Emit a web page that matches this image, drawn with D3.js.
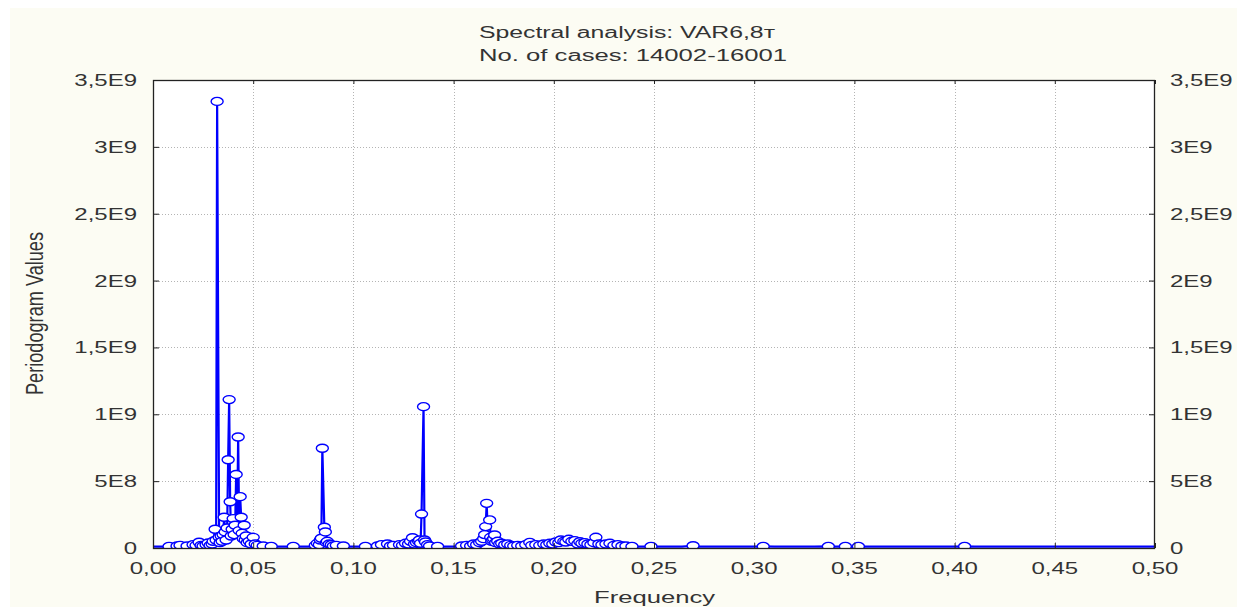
<!DOCTYPE html>
<html>
<head>
<meta charset="utf-8">
<script src="https://cdn.jsdelivr.net/npm/d3@7"></script>
<style>
  html, body { margin: 0; padding: 0; background: #ffffff; }
  svg { display: block; }
  text { font-family: "Liberation Sans", Arial, sans-serif; fill: #333; }
</style>
</head>
<body>
<svg id="chart" width="1237" height="607"></svg>
<script>
// ---- data (periodogram, frequency = k / 2000) ----
const titleLines = ["Spectral analysis: VAR6,8т", "No. of cases: 14002-16001"];
const xLabel = "Frequency";
const yLabel = "Periodogram Values";
const xTickValues = [0, 0.05, 0.10, 0.15, 0.20, 0.25, 0.30, 0.35, 0.40, 0.45, 0.50];
const xTickLabels = ["0,00","0,05","0,10","0,15","0,20","0,25","0,30","0,35","0,40","0,45","0,50"];
const yTickValues = [0, 5e8, 1e9, 1.5e9, 2e9, 2.5e9, 3e9, 3.5e9];
const yTickLabels = ["0","5E8","1E9","1,5E9","2E9","2,5E9","3E9","3,5E9"];

const freqIndex = [
  0,4,8,12,16,20,24,27,30,34,37,40,43,46,48,50,53,55,57,59,60,62,63,64,65,66,67,68,69,70,
  71,72,73,74,75,76,77,78,79,80,81,82,83,84,85,86,87,88,89,90,91,92,93,94,96,98,100,102,104,106,
  110,113,118,122,128,134,140,146,152,158,162,164,166,167,168,169,170,171,172,173,174,176,178,180,183,186,190,194,200,206,
  212,218,224,228,231,234,237,240,243,246,249,252,255,257,259,261,263,265,266,267,268,269,270,271,272,274,276,279,284,290,
  296,302,308,313,317,320,323,326,328,330,331,332,333,334,335,336,337,338,339,340,341,342,344,346,348,351,354,357,360,364,
  368,372,376,378,382,386,390,393,396,399,402,405,407,410,412,415,418,421,424,426,428,431,434,437,440,442,445,448,452,456,
  460,464,468,472,478,482,490,497,503,515,528,539,545,560,580,600,609,620,640,660,674,682,691,698,704,712,740,770,800,810,
  820,850,880,910,940,970,1000
];
const periodogramE8 = [
  0.1,0.1,0.1,0.1,0.12,0.1,0.15,0.2,0.1,0.15,0.1,0.25,0.2,0.43,0.2,0.15,0.25,0.37,0.2,0.3,0.5,1.4,0.6,33.4,16.7,0.8,0.4,0.9,0.5,1.0,
  2.3,1.2,0.6,1.5,6.6,11.1,3.46,0.9,1.4,2.2,1.0,1.7,5.5,1.9,8.3,1.3,3.84,2.3,1.1,0.7,1.7,0.6,0.9,0.4,0.5,0.3,0.8,0.3,0.2,0.1,
  0.15,0.1,0.12,0.1,0.1,0.1,0.12,0.1,0.1,0.1,0.2,0.35,0.25,0.6,0.73,7.46,4.5,1.55,1.2,0.4,0.5,0.3,0.25,0.15,0.2,0.1,0.15,0.1,0.1,0.1,
  0.12,0.1,0.15,0.25,0.1,0.3,0.15,0.2,0.1,0.25,0.2,0.35,0.3,0.5,0.77,0.3,0.4,0.5,0.6,0.35,2.54,6.6,10.57,0.6,0.45,0.25,0.15,0.1,0.12,0.1,
  0.1,0.1,0.15,0.2,0.15,0.3,0.25,0.4,0.5,0.7,1.0,1.6,3.34,1.4,1.9,2.1,0.8,0.5,0.6,0.7,0.97,0.4,0.5,0.3,0.35,0.25,0.3,0.2,0.15,0.2,
  0.15,0.25,0.42,0.2,0.25,0.2,0.3,0.25,0.35,0.3,0.45,0.4,0.6,0.5,0.45,0.65,0.5,0.55,0.3,0.47,0.35,0.4,0.3,0.25,0.4,0.8,0.3,0.25,0.3,0.35,
  0.2,0.25,0.15,0.15,0.12,0.1,0.1,0.12,0.1,0.1,0.1,0.17,0.1,0.1,0.1,0.1,0.12,0.1,0.1,0.1,0.12,0.1,0.12,0.1,0.12,0.1,0.1,0.1,0.1,0.12,
  0.1,0.1,0.1,0.1,0.1,0.1,0.1
];
// points drawn without a marker (steep neighbours of the peaks)
const unmarkedIndex = [65, 170, 269, 334, 335, 84];

// ---- layout ----
const W = 1237, H = 607;
const plot = { left: 153, right: 1155, top: 80, bottom: 548 };
const svg = d3.select("#chart");

svg.append("rect").attr("x", 10).attr("y", 8).attr("width", W - 10).attr("height", H - 8).attr("fill", "#fcfcf3");
svg.append("rect").attr("x", plot.left).attr("y", plot.top)
  .attr("width", plot.right - plot.left).attr("height", plot.bottom - plot.top).attr("fill", "#ffffff");

const x = d3.scaleLinear().domain([0, 0.5]).range([plot.left, plot.right]);
const y = d3.scaleLinear().domain([0, 3.5e9]).range([plot.bottom, plot.top]);

// grid
const grid = svg.append("g").attr("stroke", "#b4b4b4").attr("stroke-dasharray", "1,2").attr("stroke-width", 1);
grid.selectAll("line.v").data(xTickValues.slice(1, -1)).join("line")
  .attr("x1", d => Math.round(x(d)) + 0.5).attr("x2", d => Math.round(x(d)) + 0.5)
  .attr("y1", plot.top).attr("y2", plot.bottom);
grid.selectAll("line.h").data(yTickValues.slice(1, -1)).join("line")
  .attr("y1", d => Math.round(y(d)) + 0.5).attr("y2", d => Math.round(y(d)) + 0.5)
  .attr("x1", plot.left).attr("x2", plot.right);

// data
const data = freqIndex.map((k, i) => ({ f: k / 2000, v: periodogramE8[i] * 1e8, k }));
svg.append("clipPath").attr("id", "clip").append("rect")
  .attr("x", plot.left).attr("y", plot.top - 10)
  .attr("width", plot.right - plot.left).attr("height", plot.bottom - plot.top + 10);
const dg = svg.append("g").attr("clip-path", "url(#clip)");
const line = d3.line().x(d => x(d.f)).y(d => y(d.v));
dg.append("path").datum(data).attr("d", line)
  .attr("fill", "none").attr("stroke", "#0000ff").attr("stroke-width", 2.2).attr("stroke-linejoin", "round");
dg.selectAll("ellipse").data(data.filter(d => d.v > 0.1e8 && !unmarkedIndex.includes(d.k))).join("ellipse")
  .attr("cx", d => x(d.f)).attr("cy", d => y(d.v)).attr("rx", 6).attr("ry", 4)
  .attr("fill", "#ffffff").attr("stroke", "#0000ff").attr("stroke-width", 1.4);

// axes (ticks inward)
const axColor = "#222";
function styleAxis(g) {
  g.select(".domain").remove();
  g.selectAll(".tick line").attr("stroke", axColor);
  g.selectAll(".tick text").remove();
}
svg.append("g").attr("transform", `translate(${plot.left},0)`)
  .call(d3.axisLeft(y).tickValues(yTickValues).tickSize(-6).tickFormat("")).call(styleAxis);
svg.append("g").attr("transform", `translate(${plot.right},0)`)
  .call(d3.axisRight(y).tickValues(yTickValues).tickSize(-6).tickFormat("")).call(styleAxis);
svg.append("g").attr("transform", `translate(0,${plot.bottom})`)
  .call(d3.axisBottom(x).tickValues(xTickValues).tickSize(-5).tickFormat("")).call(styleAxis);
svg.append("g").attr("transform", `translate(0,${plot.top})`)
  .call(d3.axisTop(x).tickValues(xTickValues).tickSize(-4).tickFormat("")).call(styleAxis);
svg.append("rect").attr("x", plot.left + 0.5).attr("y", plot.top + 0.5)
  .attr("width", plot.right - plot.left - 1).attr("height", plot.bottom - plot.top)
  .attr("fill", "none").attr("stroke", axColor).attr("stroke-width", 1.3);

// tick labels (horizontally stretched like the original bitmap font)
const fs = 16, sx = 1.5;
svg.append("g").selectAll("text").data(yTickValues).join("text")
  .attr("transform", d => `translate(137,${y(d) + 6}) scale(${sx},1)`)
  .attr("text-anchor", "end").attr("font-size", fs).text((d, i) => yTickLabels[i]);
svg.append("g").selectAll("text").data(yTickValues).join("text")
  .attr("transform", d => `translate(1170,${y(d) + 6}) scale(${sx},1)`)
  .attr("text-anchor", "start").attr("font-size", fs).text((d, i) => yTickLabels[i]);
svg.append("g").selectAll("text").data(xTickValues).join("text")
  .attr("transform", d => `translate(${x(d)},574) scale(${sx},1)`)
  .attr("text-anchor", "middle").attr("font-size", fs).text((d, i) => xTickLabels[i]);

// titles
svg.append("text").attr("x", 479).attr("y", 38).attr("font-size", fs)
  .attr("textLength", 296).attr("lengthAdjust", "spacingAndGlyphs").text(titleLines[0]);
svg.append("text").attr("x", 479).attr("y", 61).attr("font-size", fs)
  .attr("textLength", 308).attr("lengthAdjust", "spacingAndGlyphs").text(titleLines[1]);
svg.append("text").attr("x", 594).attr("y", 603).attr("font-size", fs)
  .attr("textLength", 121).attr("lengthAdjust", "spacingAndGlyphs").text(xLabel);
svg.append("text").attr("transform", "translate(43,395) rotate(-90) scale(1,1.5)")
  .attr("font-size", fs).attr("textLength", 163).attr("lengthAdjust", "spacingAndGlyphs").text(yLabel);
</script>
</body>
</html>
